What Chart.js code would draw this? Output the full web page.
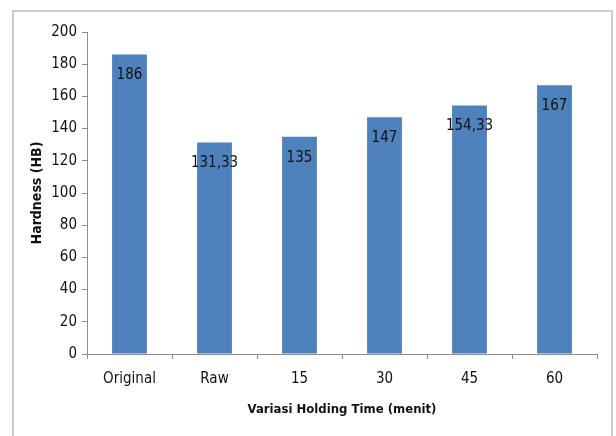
<!DOCTYPE html>
<html>
<head>
<meta charset="utf-8">
<script src="https://cdn.jsdelivr.net/npm/chart.js@4.4.1/dist/chart.umd.min.js"></script>
<style>
    body { margin: 0; background: #fff; }
    #wrap { position: relative; width: 616px; height: 436px; overflow: hidden; }
    #frame {
        position: absolute; left: 12px; top: 10px; width: 597px; height: 440px;
        border: 2px solid #cccccc; pointer-events: none;
    }
</style>
</head>
<body>
<div id="wrap">
    <canvas id="hardnessChart" width="616" height="436"></canvas>
    <div id="frame"></div>
</div>
<script>
// data
const categories = ["Original", "Raw", "15", "30", "45", "60"];
const hardness = [186, 131.33, 135, 147, 154.33, 167];
const yTicks = [0, 20, 40, 60, 80, 100, 120, 140, 160, 180, 200];

const FONT = "'Liberation Sans Narrow', 'DejaVu Sans Condensed', sans-serif";

// value labels inside the top of each bar (decimal comma like the original)
const barLabels = {
    id: "barLabels",
    afterDatasetsDraw(chart) {
        const ctx = chart.ctx;
        ctx.save();
        ctx.font = "15px " + FONT;
        ctx.fillStyle = "#111";
        ctx.textAlign = "center";
        ctx.textBaseline = "middle";
        chart.getDatasetMeta(0).data.forEach((bar, i) => {
            const txt = String(hardness[i]).replace(".", ",");
            ctx.fillText(txt, bar.x, bar.y + 21);
        });
        ctx.restore();
    }
};

new Chart(document.getElementById("hardnessChart"), {
    type: "bar",
    data: {
        labels: categories,
        datasets: [{
            data: hardness,
            backgroundColor: "#4f81bd",
            borderWidth: 0,
            categoryPercentage: 1,
            barPercentage: 0.41
        }]
    },
    options: {
        responsive: false,
        animation: false,
        devicePixelRatio: 1,
        layout: { padding: { left: 25, right: 19, top: 32, bottom: 15 } },
        plugins: {
            legend: { display: false },
            tooltip: { enabled: false }
        },
        scales: {
            x: {
                afterFit: s => { s.height = 67; },
                border: { color: "#8c8c8c", width: 1 },
                grid: { drawOnChartArea: false, tickLength: 5, color: "#8c8c8c", offset: true },
                ticks: { color: "#111", padding: 11, font: { family: FONT, size: 15 } },
                title: {
                    display: true,
                    text: "Variasi Holding Time (menit)",
                    color: "#111",
                    font: { family: FONT, size: 13, weight: "bold" }
                }
            },
            y: {
                min: 0,
                max: 200,
                afterFit: s => { s.width = 62; },
                afterBuildTicks: s => { s.ticks = yTicks.map(v => ({ value: v })); },
                border: { color: "#8c8c8c", width: 1 },
                grid: { drawOnChartArea: false, tickLength: 5, color: "#8c8c8c" },
                ticks: { color: "#111", padding: 5, font: { family: FONT, size: 15 } },
                title: {
                    display: true,
                    text: "Hardness (HB)",
                    color: "#111",
                    font: { family: FONT, size: 14, weight: "bold" }
                }
            }
        }
    },
    plugins: [barLabels]
});
</script>
</body>
</html>
